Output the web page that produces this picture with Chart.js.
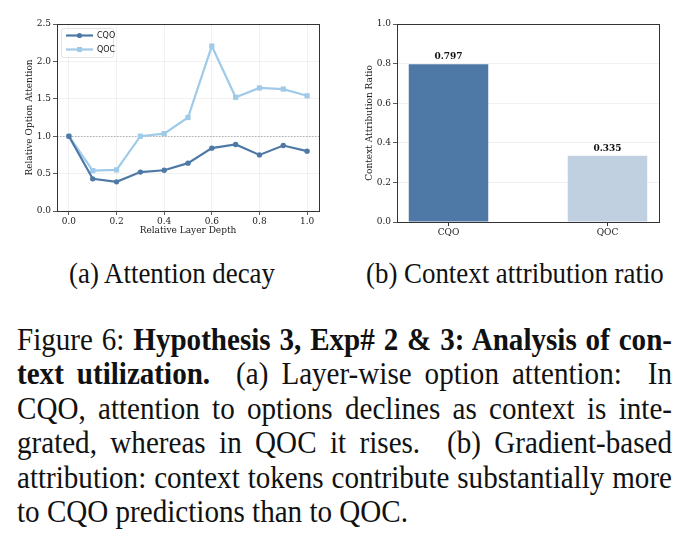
<!DOCTYPE html>
<html>
<head>
<meta charset="utf-8">
<script src="https://cdn.jsdelivr.net/npm/chart.js@4/dist/chart.umd.min.js"></script>
<style>
  html, body { margin: 0; padding: 0; background: #fff; }
  body { width: 691px; height: 551px; position: relative; overflow: hidden; }
  #c1 { position: absolute; left: 0; top: 0; }
  #c2 { position: absolute; left: 340px; top: 0; }
  .sub { position: absolute; font-family: "Liberation Serif", "Times New Roman", serif; font-size: 26px; color: #111; white-space: nowrap; line-height: 30px; transform-origin: 0 0; }
  #cap { position: absolute; left: 17px; top: 322px; width: 655px; font-family: "Liberation Serif", "Times New Roman", serif; font-size: 29px; line-height: 34.5px; color: #111; transform-origin: 0 0; }
  #cap div { text-align: justify; text-align-last: justify; white-space: nowrap; }
  #cap div.last { text-align: left; text-align-last: left; }
  .m { display: inline-block; white-space: nowrap; }
</style>
</head>
<body>
<canvas id="c1" width="340" height="245" style="width:340px;height:245px"></canvas>
<canvas id="c2" width="351" height="245" style="width:351px;height:245px"></canvas>
<div class="sub" id="subA" style="left:69px; top:260px;"><span class="m">(a) Attention decay</span></div>
<div class="sub" id="subB" style="left:366px; top:260px;"><span class="m">(b) Context attribution ratio</span></div>
<div id="cap">
  <div><span class="m">Figure 6: <b>Hypothesis 3, Exp# 2 &amp; 3: Analysis of con-</b></span></div>
  <div><span class="m"><b>text utilization.</b>&nbsp; (a) Layer-wise option attention:&nbsp; In</span></div>
  <div><span class="m">CQO, attention to options declines as context is inte-</span></div>
  <div><span class="m">grated, whereas in QOC it rises.&nbsp; (b) Gradient-based</span></div>
  <div><span class="m">attribution: context tokens contribute substantially more</span></div>
  <div class="last"><span class="m">to CQO predictions than to QOC.</span></div>
</div>
<script>
// ---- Data ----
const layerDepth = [0.0, 0.1, 0.2, 0.3, 0.4, 0.5, 0.6, 0.7, 0.8, 0.9, 1.0];
const cqoAttention = [1.00, 0.43, 0.39, 0.52, 0.545, 0.64, 0.84, 0.89, 0.75, 0.875, 0.80];
const qocAttention = [1.00, 0.54, 0.55, 1.00, 1.035, 1.25, 2.205, 1.52, 1.645, 1.63, 1.54];
const xTickValues = [0.0, 0.2, 0.4, 0.6, 0.8, 1.0];
const referenceLevel = 1.0;

const barCategories = ['CQO', 'QOC'];
const attributionRatio = [0.797, 0.335];

const seriesNames = ['CQO', 'QOC'];
const darkBlue = '#4e79a7';
const lightBlue = '#a0cbe8';
const lightBar = '#c1d0e1';

const serif = '"DejaVu Serif", serif';
const sans = '"DejaVu Sans", sans-serif';
const tickFont = { family: serif, size: 9 };
const titleFont = { family: serif, size: 9 };
const axisColor = '#333';
const gridColor = 'rgba(0,0,0,0.07)';

// ---- text sizing: caption justified lines, last line natural width ----
(function fitText() {
  const sx = 0.9; // narrower, taller glyphs as in the reference
  const cap = document.getElementById('cap');
  const lines = Array.from(cap.querySelectorAll('.m'));
  cap.style.fontSize = '100px';
  const widths = lines.map(s => s.getBoundingClientRect().width);
  let fs = 100 * 405 / widths[widths.length - 1];
  for (let i = 0; i < widths.length - 1; i++) fs = Math.min(fs, 100 * 652 / widths[i]);
  const F = fs / sx;
  cap.style.fontSize = F.toFixed(2) + 'px';
  cap.style.width = (655 / sx).toFixed(2) + 'px';
  cap.style.transform = 'scaleX(' + sx + ')';
  const baseline1 = 350;
  const lh = 34.5;
  cap.style.top = (baseline1 - ((lh - 1.107 * F) / 2 + 0.891 * F)).toFixed(1) + 'px';
  lines.forEach(s => { s.style.display = 'inline'; });

  const a = document.getElementById('subA'), b = document.getElementById('subB');
  a.style.fontSize = b.style.fontSize = '100px';
  const wa = a.querySelector('.m').getBoundingClientRect().width;
  const sF = (100 * 206 / wa) / sx;
  [a, b].forEach(el => {
    el.style.fontSize = sF.toFixed(2) + 'px';
    el.style.lineHeight = '30px';
    el.style.transform = 'scaleX(' + sx + ')';
    el.style.top = (283 - ((30 - 1.107 * sF) / 2 + 0.891 * sF)).toFixed(1) + 'px';
  });
})();

const boxPlugin = {
  id: 'box',
  afterDraw(chart) {
    const a = chart.chartArea, ctx = chart.ctx;
    ctx.save();
    ctx.strokeStyle = axisColor;
    ctx.lineWidth = 1;
    ctx.strokeRect(Math.round(a.left) + 0.5, Math.round(a.top) + 0.5, Math.round(a.right - a.left), Math.round(a.bottom - a.top));
    ctx.restore();
  }
};

const refLinePlugin = {
  id: 'refLine',
  beforeDatasetsDraw(chart) {
    const a = chart.chartArea, ctx = chart.ctx;
    const y = Math.round(chart.scales.y.getPixelForValue(referenceLevel)) + 0.5;
    ctx.save();
    ctx.strokeStyle = '#aaaaaa';
    ctx.lineWidth = 0.9;
    ctx.setLineDash([1.5, 1.5]);
    ctx.beginPath();
    ctx.moveTo(a.left, y);
    ctx.lineTo(a.right, y);
    ctx.stroke();
    ctx.restore();
  }
};

const legendPlugin = {
  id: 'insideLegend',
  afterDraw(chart) {
    const a = chart.chartArea, ctx = chart.ctx;
    const x0 = a.left + 4, y0 = a.top + 4, w = 52, h = 29;
    ctx.save();
    ctx.fillStyle = 'rgba(255,255,255,0.85)';
    ctx.strokeStyle = '#dddddd';
    ctx.lineWidth = 0.8;
    ctx.beginPath();
    ctx.roundRect(x0 + 0.5, y0 + 0.5, w, h, 2);
    ctx.fill();
    ctx.stroke();
    chart.data.datasets.forEach((ds, i) => {
      const yy = y0 + 7.5 + i * 14;
      ctx.strokeStyle = ds.borderColor;
      ctx.lineWidth = 2.2;
      ctx.beginPath();
      ctx.moveTo(x0 + 5, yy);
      ctx.lineTo(x0 + 32, yy);
      ctx.stroke();
      ctx.fillStyle = ds.pointBackgroundColor;
      if (ds.pointStyle === 'rect') {
        ctx.fillRect(x0 + 18.5 - 2.5, yy - 2.5, 5, 5);
      } else {
        ctx.beginPath();
        ctx.arc(x0 + 18.5, yy, 2.6, 0, Math.PI * 2);
        ctx.fill();
      }
      ctx.fillStyle = '#222';
      ctx.font = '8px ' + sans;
      ctx.textBaseline = 'middle';
      ctx.textAlign = 'left';
      ctx.fillText(ds.label, x0 + 36, yy + 0.5);
    });
    ctx.restore();
  }
};

const barLabelPlugin = {
  id: 'barLabels',
  afterDatasetsDraw(chart) {
    const ctx = chart.ctx;
    const meta = chart.getDatasetMeta(0);
    ctx.save();
    ctx.font = 'bold 9px ' + serif;
    ctx.fillStyle = '#111';
    ctx.textAlign = 'center';
    ctx.textBaseline = 'bottom';
    meta.data.forEach((el, i) => {
      ctx.fillText(attributionRatio[i].toFixed(3), el.x, el.y - 3);
    });
    ctx.restore();
  }
};

// ---- Left: line chart ----
new Chart(document.getElementById('c1'), {
  type: 'line',
  data: {
    datasets: [
      {
        label: seriesNames[0],
        data: layerDepth.map((x, i) => ({ x, y: cqoAttention[i] })),
        borderColor: darkBlue,
        backgroundColor: darkBlue,
        pointBackgroundColor: darkBlue,
        pointBorderColor: darkBlue,
        pointStyle: 'circle',
        pointRadius: 2.7,
        pointBorderWidth: 0,
        borderWidth: 2.2,
        tension: 0
      },
      {
        label: seriesNames[1],
        data: layerDepth.map((x, i) => ({ x, y: qocAttention[i] })),
        borderColor: lightBlue,
        backgroundColor: lightBlue,
        pointBackgroundColor: lightBlue,
        pointBorderColor: lightBlue,
        pointStyle: 'rect',
        pointRadius: 3.7,
        pointBorderWidth: 0,
        borderWidth: 2.2,
        tension: 0
      }
    ]
  },
  options: {
    responsive: false,
    animation: false,
    devicePixelRatio: 1,
    layout: { padding: { top: 24, right: 21, left: 0, bottom: 0 } },
    plugins: { legend: { display: false }, tooltip: { enabled: false } },
    scales: {
      x: {
        type: 'linear',
        min: -0.05,
        max: 1.05,
        afterBuildTicks(scale) { scale.ticks = xTickValues.map(v => ({ value: v })); },
        afterFit(scale) { scale.height = 34; },
        ticks: { font: tickFont, color: '#222', padding: 1, maxRotation: 0, callback: v => Number(v).toFixed(1) },
        grid: { color: gridColor, tickColor: axisColor, tickLength: 4, lineWidth: 0.8 },
        border: { color: axisColor, width: 1 },
        title: { display: true, text: 'Relative Layer Depth', font: titleFont, color: '#222', padding: { top: 0, bottom: 9 } }
      },
      y: {
        min: 0,
        max: 2.5,
        afterFit(scale) { scale.width = 57; },
        ticks: { stepSize: 0.5, font: tickFont, color: '#222', padding: 2, callback: v => Number(v).toFixed(1) },
        grid: { color: gridColor, tickColor: axisColor, tickLength: 4, lineWidth: 0.8 },
        border: { color: axisColor, width: 1 },
        title: { display: true, text: 'Relative Option Attention', font: titleFont, color: '#222', padding: { top: 24.5, bottom: 0 } }
      }
    }
  },
  plugins: [refLinePlugin, boxPlugin, legendPlugin]
});

// ---- Right: bar chart ----
new Chart(document.getElementById('c2'), {
  type: 'bar',
  data: {
    datasets: [{
      label: 'Context Attribution Ratio',
      data: barCategories.map((c, i) => ({ x: i, y: attributionRatio[i] })),
      backgroundColor: [darkBlue, lightBar],
      borderWidth: 0,
      categoryPercentage: 1.0,
      barPercentage: 0.5
    }]
  },
  options: {
    responsive: false,
    animation: false,
    devicePixelRatio: 1,
    layout: { padding: { top: 24, right: 32, left: 0, bottom: 0 } },
    plugins: { legend: { display: false }, tooltip: { enabled: false } },
    scales: {
      x: {
        type: 'linear',
        offset: false,
        bounds: 'data',
        min: -0.324,
        max: 1.324,
        afterBuildTicks(scale) { scale.ticks = barCategories.map((c, i) => ({ value: i })); },
        afterFit(scale) { scale.height = 23; },
        ticks: { font: tickFont, color: '#222', padding: 1, maxRotation: 0, callback: (v) => barCategories[v] },
        grid: { offset: false, drawOnChartArea: false, tickColor: axisColor, tickLength: 4 },
        border: { color: axisColor, width: 1 }
      },
      y: {
        min: 0,
        max: 1.0,
        afterFit(scale) { scale.width = 57; },
        ticks: { stepSize: 0.2, font: tickFont, color: '#222', padding: 2, callback: v => Number(v).toFixed(1) },
        grid: { color: gridColor, tickColor: axisColor, tickLength: 4, lineWidth: 0.8 },
        border: { color: axisColor, width: 1 },
        title: { display: true, text: 'Context Attribution Ratio', font: titleFont, color: '#222', padding: { top: 24.5, bottom: 0 } }
      }
    }
  },
  plugins: [boxPlugin, barLabelPlugin]
});
</script>
</body>
</html>
